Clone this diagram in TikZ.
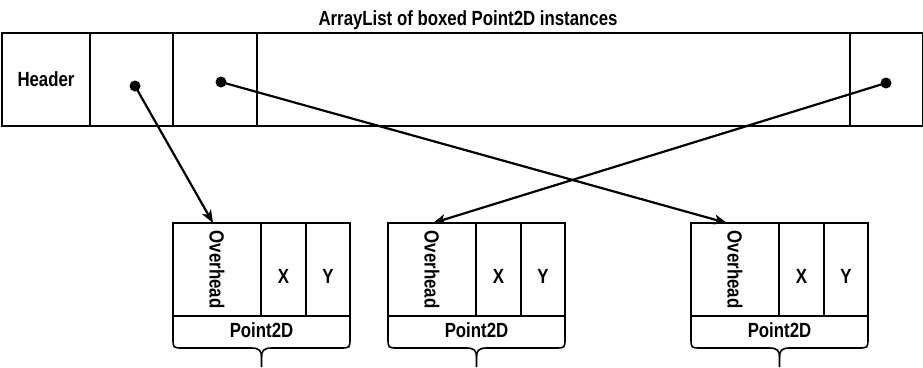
\documentclass[tikz,border=0pt]{standalone}
\usepackage{fontspec}
\setmainfont[FakeStretch=0.82]{Liberation Sans}
\usetikzlibrary{positioning,arrows.meta}

\begin{document}
\begin{tikzpicture}[
    x=1pt, y=-1pt,
    node distance=0pt,
    cell/.style={draw, line width=1.9pt, minimum height=93pt, inner sep=0pt, outer sep=0pt, font=\bfseries\fontsize{20.5}{24}\selectfont},
    lbl/.style={inner sep=0pt, font=\bfseries\fontsize{20.5}{24}\selectfont},
    dot/.style={circle, fill, inner sep=0pt, minimum size=11pt},
    brc/.style={line width=1.6pt, line join=round},
    ptr/.style={-{Stealth[length=13pt, width=10pt, inset=3.5pt]}, line width=2.2pt}
  ]
    \useasboundingbox (0,0) rectangle (923,367);
    \node[lbl, anchor=base] (title) at (468,25) {ArrayList of boxed Point2D instances};
    % the list itself
    \node[cell, minimum width=88pt, anchor=north west] (hdr) at (2,33) {Header};
    \node[cell, minimum width=83pt, right=of hdr] (s1) {};
    \node[cell, minimum width=84pt, right=of s1] (s2) {};
    \node[cell, minimum width=593pt, right=of s2] (gap) {};
    \node[cell, minimum width=73pt, right=of gap] (sn) {};
    \node[dot] (p1) at (135,86) {};
    \node[dot] (p2) at (221,82) {};
    \node[dot] (pn) at (886,83) {};
    % boxed points
    \foreach \bx [count=\i] in {173,388,691} {
      \pgfmathsetmacro{\cx}{\bx+88.5}
      \pgfmathsetmacro{\rx}{\bx+177}
      \node[cell, minimum width=88pt, anchor=north west] (ov\i) at (\bx,223) {};
      \node[lbl, rotate=-90] at (ov\i.center) {Overhead};
      \node[cell, minimum width=45pt, right=of ov\i] (x\i) {};
      \node[lbl] at ([yshift=-7pt]x\i.center) {X};
      \node[cell, minimum width=44pt, right=of x\i] (y\i) {};
      \node[lbl] at ([yshift=-7pt]y\i.center) {Y};
      \node[lbl] (pt\i) at (\cx,330) {Point2D};
      \draw[brc] (\bx,316) -- (\bx,338) .. controls (\bx,348) .. (\bx+10,348) -- (\cx-10,348)
        .. controls (\cx-2,348) and (\cx,351) .. (\cx,357) -- (\cx,367);
      \draw[brc] (\cx,357) .. controls (\cx,351) and (\cx+2,348) .. (\cx+10,348) -- (\rx-10,348)
        .. controls (\rx,348) .. (\rx,338) -- (\rx,316);
    }
    \draw[ptr] (p1.center) -- ([xshift=-4pt]ov1.north);
    \draw[ptr] (p2.center) -- ([xshift=-8pt]ov3.north);
    \draw[ptr] (pn.center) -- ([xshift=1pt]ov2.north);
\end{tikzpicture}
\end{document}
